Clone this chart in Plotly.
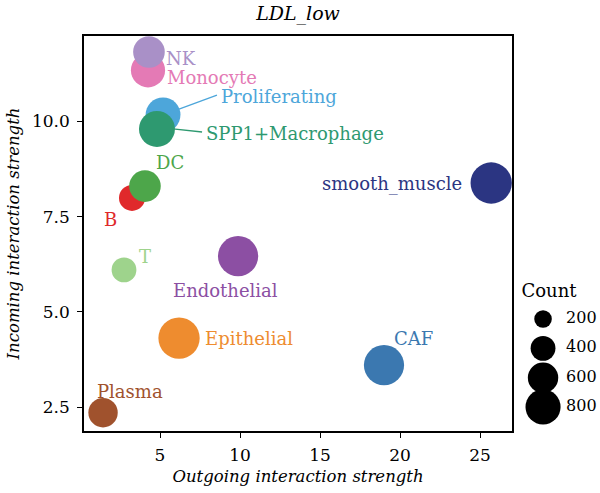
import plotly.graph_objects as go

# ---- data ----
cell_types = ["B", "CAF", "DC", "Endothelial", "Epithelial", "Monocyte", "NK",
              "Plasma", "Proliferating", "smooth_muscle", "SPP1+Macrophage", "T"]
outgoing = [3.25, 19.0, 4.06, 9.88, 6.19, 4.25, 4.31, 1.44, 5.19, 25.7, 4.81, 2.75]
incoming = [7.99, 3.60, 8.30, 6.46, 4.31, 11.34, 11.82, 2.35, 10.17, 8.38, 9.80, 6.10]
counts = [440, 1050, 650, 1050, 1110, 760, 650, 560, 790, 1110, 840, 400]
colors = ["#E0292B", "#3B78B0", "#4DA64A", "#8C4FA3", "#EE8C2F", "#E47AB5", "#A990C7",
          "#A0522D", "#4DA6DA", "#2B3582", "#2E9970", "#9ED38C"]

# label placement (repelled text positions, data units)
label_x = [1.38, 19.5, 4.63, 5.69, 7.69, 5.31, 5.25, 0.94, 8.69, 15.0, 7.75, 3.56]
label_y = [7.41, 4.31, 8.91, 5.57, 4.29, 11.14, 11.64, 2.90, 10.64, 8.36, 9.67, 6.44]
# connector segments: (x0, y0, x1, y1)
segments = {"Proliferating": (6.06, 10.30, 8.56, 10.69),
            "SPP1+Macrophage": (5.81, 9.80, 7.63, 9.72)}

legend_counts = [200, 400, 600, 800]
legend_labels = ["200", "400", "600", "800"]

FONT = "DejaVu Serif"
SIZEREF = 1.3

fig = go.Figure()
fig.add_trace(go.Scatter(
    x=outgoing, y=incoming, mode="markers",
    marker=dict(size=counts, sizemode="area", sizeref=SIZEREF, color=colors,
                opacity=1, line=dict(width=0)),
    showlegend=False, hoverinfo="text", text=cell_types, cliponaxis=False,
))

# size legend on its own (hidden) axes
fig.add_trace(go.Scatter(
    x=[0.32] * len(legend_counts), y=list(range(len(legend_counts))),
    xaxis="x2", yaxis="y2", mode="markers",
    marker=dict(size=legend_counts, sizemode="area", sizeref=SIZEREF, color="black",
                opacity=1, line=dict(width=0)),
    showlegend=False, hoverinfo="skip", cliponaxis=False,
))
fig.add_trace(go.Scatter(
    x=[0.64] * len(legend_labels), y=list(range(len(legend_labels))),
    xaxis="x2", yaxis="y2", mode="text", text=legend_labels,
    textposition="middle right",
    textfont=dict(family=FONT, size=16, color="black"),
    showlegend=False, hoverinfo="skip", cliponaxis=False,
))
fig.add_trace(go.Scatter(
    x=[0.02], y=[-0.9], xaxis="x2", yaxis="y2", mode="text", text=["Count"],
    textposition="middle right",
    textfont=dict(family=FONT, size=18, color="black"),
    showlegend=False, hoverinfo="skip", cliponaxis=False,
))

annotations = []
for name, lx, ly, c in zip(cell_types, label_x, label_y, colors):
    annotations.append(dict(x=lx, y=ly, xref="x", yref="y", text=name, showarrow=False,
                            xanchor="left", yanchor="middle",
                            font=dict(family=FONT, size=18, color=c)))

shapes = []
for name, (x0, y0, x1, y1) in segments.items():
    c = colors[cell_types.index(name)]
    shapes.append(dict(type="line", xref="x", yref="y", x0=x0, y0=y0, x1=x1, y1=y1,
                       line=dict(color=c, width=1.3)))

MAIN_W = 428 / 508
hidden = dict(showgrid=False, zeroline=False, showticklabels=False, ticks="",
              showline=False, fixedrange=True)
fig.update_layout(
    width=600, height=493,
    margin=dict(l=84, r=8, t=36, b=62),
    paper_bgcolor="white", plot_bgcolor="white",
    font=dict(family=FONT, color="black"),
    title=dict(text="<i>LDL_low</i>", x=MAIN_W / 2, xref="paper", xanchor="center",
               y=1 - 13 / 493, yref="container", yanchor="middle",
               font=dict(family=FONT, size=19, color="black")),
    xaxis=dict(domain=[0, MAIN_W], range=[0.25, 27.0], tickvals=[5, 10, 15, 20, 25],
               ticktext=["5", "10", "15", "20", "25"],
               showgrid=False, zeroline=False, showline=True, mirror=True,
               linecolor="black", linewidth=1.5, ticks="outside", ticklen=5,
               tickcolor="black", tickwidth=1.2, ticklabelstandoff=3,
               tickfont=dict(family=FONT, size=17, color="black"),
               title=dict(text="<i>Outgoing interaction strength</i>", standoff=6,
                          font=dict(family=FONT, size=16.5, color="black"))),
    yaxis=dict(range=[1.87, 12.24], tickvals=[2.5, 5.0, 7.5, 10.0],
               ticktext=["2.5", "5.0", "7.5", "10.0"],
               showgrid=False, zeroline=False, showline=True, mirror=True,
               linecolor="black", linewidth=1.5, ticks="outside", ticklen=5,
               tickcolor="black", tickwidth=1.2, ticklabelstandoff=4,
               tickfont=dict(family=FONT, size=17, color="black"),
               title=dict(text="<i>Incoming interaction strength</i>", standoff=8,
                          font=dict(family=FONT, size=16.5, color="black"))),
    xaxis2=dict(domain=[(520 - 84) / 508, 1.0], range=[0, 1], **hidden),
    yaxis2=dict(domain=[0, 1], range=[3.82, -9.66], anchor="x2", **hidden),
    annotations=annotations,
    shapes=shapes,
)

fig.write_html("out.html")
